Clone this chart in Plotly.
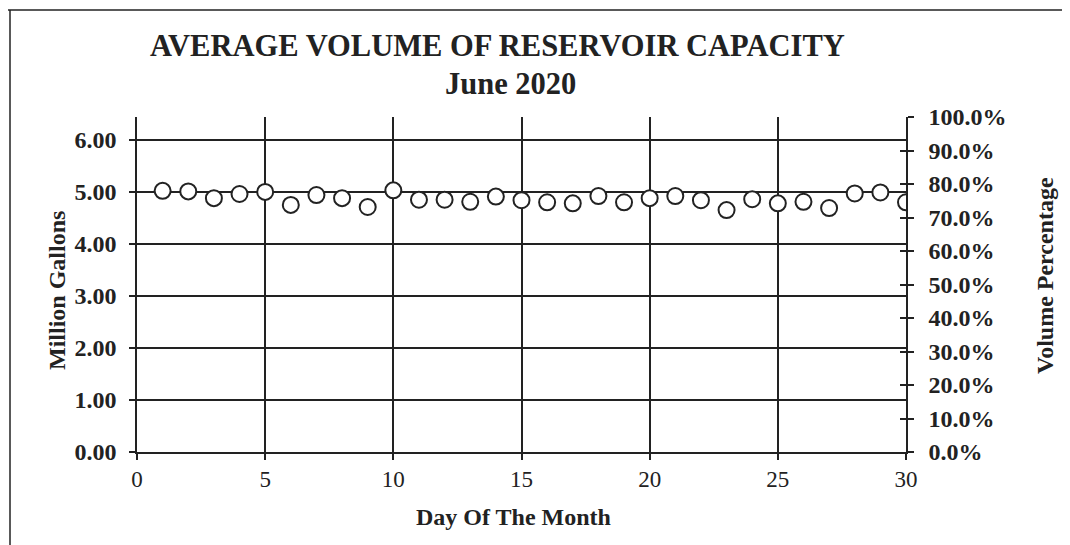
import plotly.graph_objects as go

# Daily average volume (million gallons), June 2020
days = list(range(1, 31))
volume_mg = [5.02, 5.01, 4.88, 4.96, 5.00, 4.75, 4.94, 4.88, 4.71, 5.03,
             4.85, 4.85, 4.81, 4.91, 4.84, 4.80, 4.78, 4.92, 4.80, 4.88,
             4.92, 4.84, 4.65, 4.86, 4.78, 4.81, 4.69, 4.97, 4.99, 4.80]

left_ticks = [0, 1, 2, 3, 4, 5, 6]
left_tick_text = ['0.00', '1.00', '2.00', '3.00', '4.00', '5.00', '6.00']
pct_ticks = [i / 10 for i in range(11)]
x_ticks = [0, 5, 10, 15, 20, 25, 30]

title_1 = 'AVERAGE VOLUME OF RESERVOIR CAPACITY'
title_2 = 'June 2020'

# page body has an 8px margin, so work in page pixels and shift
OFF = 8
W, H = 1070 - OFF, 545 - OFF
L, R, T, B = 137 - OFF, 906 - OFF, 117 - OFF, 452 - OFF
FONT = 'Liberation Serif'
INK = '#222222'


def px_x(p):
    return (p - OFF - L) / (R - L)


def px_y(p):
    return (B - (p - OFF)) / (B - T)


fig = go.Figure()
fig.add_trace(go.Scatter(
    x=days, y=volume_mg, mode='markers', name='Volume',
    marker=dict(symbol='circle', size=16, color='white', line=dict(color=INK, width=2)),
    showlegend=False,
))
# invisible traces so the right-hand axes get drawn
fig.add_trace(go.Scatter(x=[None], y=[None], yaxis='y2', showlegend=False, hoverinfo='skip'))
fig.add_trace(go.Scatter(x=[None], y=[None], yaxis='y3', showlegend=False, hoverinfo='skip'))

axis_line = dict(showline=True, linecolor=INK, linewidth=1.5, tickcolor=INK, tickwidth=1.5)

fig.update_layout(
    width=W, height=H,
    margin=dict(l=L, r=W - R, t=T, b=H - B),
    paper_bgcolor='white', plot_bgcolor='white',
    showlegend=False,
    xaxis=dict(
        range=[0, 30], tickvals=x_ticks, ticks='outside', ticklen=6,
        showgrid=True, gridcolor=INK, gridwidth=1.5, zeroline=False,
        tickfont=dict(family=FONT, size=23, color=INK),
        **axis_line,
    ),
    yaxis=dict(
        range=[0, 6.44], tickvals=left_ticks, ticktext=left_tick_text,
        ticks='outside', ticklen=6, ticklabelstandoff=8,
        showgrid=True, gridcolor=INK, gridwidth=1.5, zeroline=False,
        tickfont=dict(family=FONT, size=24, color=INK, weight='bold'),
        **axis_line,
    ),
    yaxis2=dict(
        range=[0, 1], tickvals=pct_ticks, tickformat='.1%', overlaying='y', side='right',
        anchor='x', ticks='outside', ticklen=6, ticklabelstandoff=10,
        showgrid=False, zeroline=False,
        tickfont=dict(family=FONT, size=24, color=INK, weight='bold'),
        **axis_line,
    ),
    yaxis3=dict(
        range=[0, 1], tickvals=pct_ticks, overlaying='y', side='right', anchor='x',
        ticks='inside', ticklen=6, showticklabels=False, showgrid=False, zeroline=False,
        **axis_line,
    ),
)

annotations = [
    dict(text=title_1, x=px_x(497), y=px_y(46), size=30.5),
    dict(text=title_2, x=px_x(510), y=px_y(84), size=30.5),
    dict(text='Day Of The Month', x=px_x(513), y=px_y(517), size=24),
    dict(text='Million Gallons', x=px_x(57), y=px_y(291), size=24),
    dict(text='Volume Percentage', x=px_x(1045), y=px_y(276), size=24),
]
angles = [0, 0, 0, -90, -90]
for a, ang in zip(annotations, angles):
    fig.add_annotation(
        text=a['text'], x=a['x'], y=a['y'], xref='paper', yref='paper',
        xanchor='center', yanchor='middle', showarrow=False, textangle=ang,
        font=dict(family=FONT, size=a['size'], color=INK, weight='bold'),
    )

# scanned page frame (top and left edges)
fig.add_shape(type='line', xref='paper', yref='paper',
              x0=px_x(OFF), x1=px_x(1070), y0=px_y(10), y1=px_y(10),
              line=dict(color=INK, width=1.5))
fig.add_shape(type='line', xref='paper', yref='paper',
              x0=px_x(10), x1=px_x(10), y0=px_y(10), y1=px_y(545),
              line=dict(color=INK, width=1.5))

fig.write_html('out.html')
